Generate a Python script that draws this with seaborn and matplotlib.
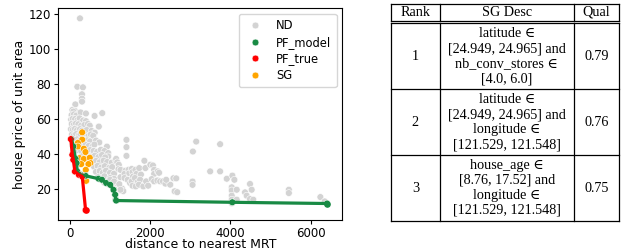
import pandas as pd
import seaborn as sns
import matplotlib.pyplot as plt

# ---- data ----
nd_x = [250, 184, 323, 300, 300, 300, 134,
        60, 120, 84, 40, 100, 160, 266, 398, 614, 805,
        30, 70, 130, 190, 240, 330, 400,
        45, 95, 150, 210, 280, 360, 450, 494, 720,
        25, 75, 125, 180, 250, 300, 420, 540, 617,
        50, 100, 155, 220, 260, 380, 460, 520, 580,
        35, 90, 135, 180, 240, 350, 430, 500, 650, 732,
        70, 120, 175, 260, 390, 470, 560, 610, 922,
        150, 280, 420, 500, 590, 680, 770, 860,
        300, 450, 530, 620, 710, 800, 955, 955, 880,
        560, 650, 740, 840, 930, 1040,
        600, 690, 780, 870, 980, 1053,
        650, 740, 820, 900, 1000, 1100,
        700, 860, 1000, 1100,
        850, 950, 1050, 1180, 1128, 1267, 1300, 1330,
        1136, 1152, 1180, 1218, 1210, 1277, 1004, 1100, 1230,
        1409, 1409, 1409,
        1260, 1260, 1260, 1384, 1360, 1360, 1460, 1480, 1440, 1500,
        1540, 1560, 1575, 1540, 1560, 1632, 1660, 1620, 1690, 1640,
        1727, 1770, 1750, 1720, 1830, 1881, 1900, 1950, 2005, 2070,
        2100, 2100, 2040, 2100, 2180, 2190, 2250, 2320, 2380, 2500,
        2580, 2610, 1856, 2222, 2400, 2650, 2675,
        3065, 3148, 3057, 3057, 3496, 3744, 3744, 3910, 4050, 4100,
        4034, 4034, 4034, 4034, 4034, 4158, 4158, 4365, 4406, 4489,
        4531, 4489, 4572, 5458, 5458, 6244, 6352]
nd_y = [117.5, 78.3, 78.0, 74.0, 71.5, 69.8, 68.2,
        65.0, 64.5, 64.1, 62.0, 62.5, 61.8, 63.6, 63.0, 61.6, 63.2,
        59.5, 60.0, 59.8, 59.2, 60.2, 59.0, 58.6,
        57.0, 56.5, 57.3, 56.8, 56.0, 56.4, 57.0, 56.0, 55.5,
        54.0, 53.8, 54.2, 53.5, 54.0, 53.2, 53.5, 53.0, 52.0,
        51.0, 50.5, 51.2, 50.4, 50.8, 50.6, 50.0, 51.0, 50.2,
        48.0, 47.5, 47.8, 48.2, 47.2, 48.0, 47.6, 47.0, 47.5, 46.4,
        45.0, 44.6, 44.2, 44.8, 45.0, 44.4, 44.0, 45.2, 44.0,
        41.8, 41.5, 41.2, 42.0, 41.5, 41.0, 42.2, 41.5,
        38.5, 39.0, 38.3, 38.8, 38.0, 39.2, 40.3, 38.4, 37.8,
        35.5, 35.8, 35.0, 36.0, 35.2, 34.8,
        32.5, 33.0, 32.0, 32.8, 31.8, 32.3,
        29.5, 30.0, 29.0, 30.2, 29.0, 28.5,
        26.5, 27.0, 26.0, 25.5,
        23.5, 23.0, 22.0, 23.0, 19.2, 18.9, 20.0, 18.5,
        36.3, 37.0, 35.0, 33.6, 31.1, 30.7, 25.0, 24.0, 22.5,
        47.9, 43.7, 38.7,
        30.7, 26.5, 19.3, 30.2, 28.4, 26.0, 30.7, 28.8, 25.0, 23.1,
        31.2, 29.4, 26.9, 24.1, 21.6, 30.7, 28.4, 26.0, 23.6, 21.2,
        31.7, 28.0, 25.0, 22.2, 21.2, 31.7, 24.1, 21.6, 33.6, 33.2,
        30.7, 28.4, 25.4, 24.1, 24.6, 29.8, 24.1, 24.1, 22.8, 22.2,
        25.9, 18.4, 35.9, 29.0, 25.0, 25.8, 17.9,
        41.2, 46.9, 24.0, 22.1, 29.8, 29.8, 45.4, 25.6, 27.4, 25.0,
        20.7, 18.9, 15.9, 13.6, 11.5, 19.3, 13.6, 17.8, 15.9, 22.6,
        19.3, 14.0, 13.6, 19.3, 17.4, 15.1, 12.6]

sg_x = [305, 305, 198, 198, 346, 387, 239, 346, 494, 510, 461, 280, 395, 403]
sg_y = [52.2, 48.0, 46.1, 44.1, 42.8, 40.9, 37.4, 36.9, 37.6, 34.6, 34.0, 34.0, 30.7, 24.4]

pf_model_x = [41, 82, 140, 165, 181, 263, 387, 716, 798, 905, 1004, 1086, 1128, 1144, 1152, 4049, 6411]
pf_model_y = [48.4, 44.1, 37.0, 34.6, 29.8, 27.9, 27.3, 25.6, 25.0, 23.1, 22.1, 19.2, 16.4, 13.5, 13.1, 12.1, 11.4]

pf_true_x = [23, 59, 84, 124, 224, 307, 390]
pf_true_y = [48.3, 39.3, 36.4, 29.7, 27.8, 26.9, 7.6]

headers = ["Rank", "SG Desc", "Qual"]
ranks = ["1", "2", "3"]
descs = ["latitude \u2208\n[24.949, 24.965] and\nnb_conv_stores \u2208\n[4.0, 6.0]",
         "latitude \u2208\n[24.949, 24.965] and\nlongitude \u2208\n[121.529, 121.548]",
         "house_age \u2208\n[8.76, 17.52] and\nlongitude \u2208\n[121.529, 121.548]"]
quals = [0.79, 0.76, 0.75]

order = ["ND", "PF_model", "PF_true", "SG"]
palette = {"ND": "lightgray", "PF_model": "#188a44", "PF_true": "red", "SG": "orange"}

points = pd.concat([
    pd.DataFrame({"dist": nd_x, "price": nd_y, "type": "ND"}),
    pd.DataFrame({"dist": sg_x, "price": sg_y, "type": "SG"}),
    pd.DataFrame({"dist": pf_model_x, "price": pf_model_y, "type": "PF_model"}),
    pd.DataFrame({"dist": pf_true_x, "price": pf_true_y, "type": "PF_true"}),
], ignore_index=True)

fig = plt.figure(figsize=(6.23, 2.52), dpi=100)

# table drawn in pixel coordinates on a full-figure overlay
tab = fig.add_axes([0, 0, 1, 1])
tab.set_xlim(0, 623)
tab.set_ylim(252, 0)
tab.axis("off")

ax = fig.add_axes([0.0936, 0.128, 0.4558, 0.840])
sns.scatterplot(data=points, x="dist", y="price", hue="type", hue_order=order,
                palette=palette, s=24, edgecolor="white", linewidth=0.4, ax=ax)
sns.lineplot(x=pf_model_x, y=pf_model_y, color=palette["PF_model"], lw=2.3,
             estimator=None, sort=False, legend=False, ax=ax)
sns.lineplot(x=pf_true_x, y=pf_true_y, color=palette["PF_true"], lw=2.3,
             estimator=None, sort=False, legend=False, ax=ax)
ax.scatter(pf_model_x[-1:], pf_model_y[-1:], color=palette["PF_model"], s=14, zorder=5)
ax.scatter(pf_true_x[-1:], pf_true_y[-1:], color=palette["PF_true"], s=14, zorder=5)

ax.set_xlim(-290, 6790)
ax.set_ylim(2.1, 123.4)
ax.set_xticks([0, 2000, 4000, 6000])
ax.set_yticks([20, 40, 60, 80, 100, 120])
ax.tick_params(labelsize=8.5, length=3, pad=2)
ax.set_xlabel("distance to nearest MRT", fontsize=9, labelpad=-1)
ax.set_ylabel("house price of unit area", fontsize=9, labelpad=2)
ax.legend(loc="upper right", fontsize=8.3, labelspacing=0.32, handletextpad=0.8,
          borderpad=0.45, title=None)

# ---- table ----
col_x = [391, 439.7, 574, 619.3]
row_y = [23.3, 89.3, 155, 221]
lc = dict(color="black", lw=0.9)
for y in [4, 20.7] + row_y:
    tab.plot([col_x[0], col_x[-1]], [y, y], **lc)
for x in col_x:
    tab.plot([x, x], [4, 20.7], **lc)
    tab.plot([x, x], [row_y[0], row_y[-1]], **lc)

serif = ["Liberation Serif", "DejaVu Serif"]
fs = 10.2
col_c = [(col_x[i] + col_x[i + 1]) / 2 for i in range(3)]
for c, h in zip(col_c, headers):
    tab.text(c, 12.3, h, ha="center", va="center", fontsize=fs, family=serif)
for i in range(3):
    yc = (row_y[i] + row_y[i + 1]) / 2
    tab.text(col_c[0], yc, ranks[i], ha="center", va="center", fontsize=fs, family=serif)
    tab.text(col_c[1], yc, descs[i], ha="center", va="center", fontsize=fs,
             family=serif, multialignment="center", linespacing=1.2)
    tab.text(col_c[2], yc, f"{quals[i]:.2f}", ha="center", va="center", fontsize=fs, family=serif)

fig.savefig("out.png", dpi=100)
